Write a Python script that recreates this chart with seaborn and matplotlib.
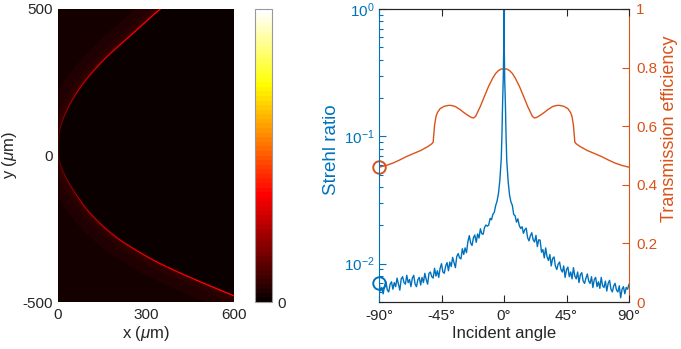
import numpy as np
import pandas as pd
import matplotlib
matplotlib.use("Agg")
import matplotlib.pyplot as plt
from matplotlib.colors import ListedColormap
import seaborn as sns

sns.set_style("white")
plt.rcParams['font.family'] = ['Liberation Sans', 'DejaVu Sans']
plt.rcParams['mathtext.fontset'] = 'custom'
plt.rcParams['mathtext.rm'] = 'Liberation Sans'
plt.rcParams['mathtext.it'] = 'Liberation Sans:italic'

BLUE = '#0072BD'
ORANGE = '#D95319'
DARK = '#262626'

# ---------------- data: left panel (caustic) ----------------
caustic_y = [-600, -540, -500, -476, -414, -362, -328, -294, -249, -192, -129, -72, -15, 30, 70, 115, 167, 224, 269, 332, 383, 434, 497, 540, 600]
caustic_x = [930, 762, 654, 592, 444, 331, 274, 217, 160, 103, 58, 24, 1, 0, 1, 12.6, 35, 69, 103, 160, 217, 274, 344, 398, 476]
caustic_level = [0.40, 0.40, 0.40, 0.40, 0.38, 0.36, 0.34, 0.32, 0.30, 0.27, 0.22, 0.17, 0.12, 0.10, 0.12, 0.17, 0.22, 0.27, 0.30, 0.33, 0.35, 0.37, 0.38, 0.38, 0.38]
x_ticks_um = [0, 300, 600]
y_ticks_um = [500, 0, -500]

# ---------------- data: right panel ----------------
strehl_angle = list(range(-90, -1)) + [-1.5, -1, -0.5, -0.25, 0, 0.25, 0.5, 1, 1.5] + list(range(2, 91))
strehl_milli = [
    7.2, 6.1, 6.5, 5.8, 6.7, 7.2, 6.2, 6.0, 6.9, 7.2,
    6.3, 7.1, 6.6, 7.7, 6.9, 6.2, 7.6, 7.9, 7.1, 6.9,
    8.1, 7.1, 7.5, 6.6, 7.7, 8.1, 6.9, 6.6, 7.5, 7.8,
    6.8, 7.8, 7.1, 8.4, 7.5, 6.9, 8.4, 8.6, 7.9, 7.7,
    9.2, 8.0, 8.8, 7.8, 9.2, 10.0, 8.6, 8.4, 9.6, 10.2,
    8.8, 10.3, 9.5, 11.2, 10.2, 9.3, 11.4, 12.0, 11.1, 10.9,
    13.1, 11.8, 13.3, 12.2, 14.9, 16.6, 14.5, 13.9, 16.0, 16.8,
    14.7, 17.1, 15.9, 18.8, 17.2, 17.0, 19.3, 20.1, 19.7, 20.1,
    22.7, 22.1, 24.4, 25.3, 28.6, 31.0, 35.5, 45.0, 66.0,
    100, 185, 290, 460, 1000, 450, 280, 180, 98,
    64, 44, 34.5, 30.5, 28.7, 24.3, 23.8, 21.2, 22.5, 19.9,
    18.9, 19.5, 17.3, 18.5, 19.0, 16.0, 15.1, 16.6, 17.5, 15.4,
    14.8, 16.7, 13.6, 15.4, 15.3, 12.3, 12.9, 11.1, 13.3, 11.3,
    10.6, 11.8, 9.6, 11.0, 11.3, 9.6, 9.0, 9.9, 10.3, 9.0,
    8.6, 9.6, 7.8, 9.0, 9.4, 7.9, 8.6, 7.6, 9.3, 8.0,
    7.6, 8.6, 7.1, 8.2, 8.5, 7.3, 7.0, 7.7, 8.3, 7.3,
    7.0, 7.9, 6.5, 7.5, 7.8, 6.6, 7.2, 6.4, 7.8, 6.7,
    6.5, 7.3, 6.1, 7.0, 7.4, 6.3, 6.0, 6.7, 7.0, 6.2,
    6.0, 6.7, 5.4, 6.3, 6.6, 5.8, 6.5, 6.3, 6.9,
]
strehl = [v / 1000.0 for v in strehl_milli]

trans_angle = [-90, -85, -80, -75, -70, -65, -60, -55, -52, -51, -50.5, -50, -49, -48, -46, -43, -40, -38,
               -35, -32, -29, -26, -23.5, -22, -20.5, -17, -14, -11, -8, -6, -4, -2, 0,
               2, 4, 6, 8, 11, 14, 17, 20.5, 22, 23.5, 26, 29, 32, 35, 38, 40, 43, 46, 48, 49, 50,
               50.5, 51, 52, 55, 60, 65, 70, 75, 80, 85, 90]
trans = [0.460, 0.466, 0.474, 0.485, 0.497, 0.507, 0.517, 0.530, 0.540, 0.545, 0.575, 0.603, 0.632, 0.646,
         0.660, 0.668, 0.671, 0.671, 0.667, 0.658, 0.647, 0.637, 0.630, 0.628, 0.633, 0.668, 0.703, 0.737,
         0.765, 0.780, 0.790, 0.795, 0.796,
         0.795, 0.790, 0.780, 0.765, 0.737, 0.703, 0.668, 0.633, 0.628, 0.630, 0.637, 0.647, 0.658, 0.667,
         0.671, 0.671, 0.668, 0.660, 0.646, 0.632, 0.603, 0.575, 0.545, 0.540, 0.530, 0.517, 0.507, 0.497,
         0.485, 0.474, 0.466, 0.460]

marker_angle = -90
marker_strehl = 0.0070
marker_trans = 0.46
angle_ticks = [-90, -45, 0, 45, 90]
angle_labels = ['-90°', '-45°', '0°', '45°', '90°']
trans_ticks = [0, 0.2, 0.4, 0.6, 0.8, 1]
trans_labels = ['0', '0.2', '0.4', '0.6', '0.8', '1']

# ---------------- figure ----------------
W, H = 681, 349
fig = plt.figure(figsize=(W / 100, H / 100), dpi=100)

def rect(x0, y0, x1, y1):
    return [x0 / W, 1 - y1 / H, (x1 - x0) / W, (y1 - y0) / H]

axL = fig.add_axes(rect(58, 9, 234, 302))
cax = fig.add_axes(rect(255, 9, 272, 302))
ax = fig.add_axes(rect(379, 9, 629, 302))

# ---- build the intensity field from the caustic curve ----
ncol, nrow = 176, 293
xs = (np.arange(ncol) + 0.5) / ncol * 600
ys = 500 - (np.arange(nrow) + 0.5) / nrow * 1000
yd = np.linspace(-600, 600, 1201)
xd_raw = np.interp(yd, caustic_y, caustic_x)
kern = np.exp(-0.5 * (np.arange(-60, 61) / 15.0) ** 2)
kern /= kern.sum()
xd = np.convolve(np.pad(xd_raw, 60, mode='edge'), kern, mode='valid')
cx = xd / 600 * ncol
cy = (500 - yd) / 1000 * nrow
col = np.arange(ncol) + 0.5
field = np.zeros((nrow, ncol))
for r in range(nrow):
    rr = r + 0.5
    d = np.sqrt((col[:, None] - cx[None, :]) ** 2 + (rr - cy[None, :]) ** 2).min(axis=1)
    xc = np.interp(ys[r], yd, xd)
    amp = np.interp(ys[r], caustic_y, caustic_level)
    outside = xs < xc
    line = amp * np.exp(-(d / 0.85) ** 2)
    glow = outside * (0.025 + 0.05 * np.exp(-d / 8.0))
    field[r] = np.maximum(line, glow)

hot64 = ListedColormap(plt.get_cmap('hot')(np.linspace(0, 1, 64)))
df = pd.DataFrame(field)
sns.heatmap(df, ax=axL, cmap=hot64, vmin=0, vmax=1, cbar_ax=cax,
            xticklabels=False, yticklabels=False, rasterized=True,
            cbar_kws={'ticks': [0]})
axL.set_xticks([0, ncol / 2, ncol])
axL.set_xticklabels([str(v) for v in x_ticks_um], rotation=0)
axL.set_yticks([0, nrow / 2, nrow])
axL.set_yticklabels([str(v) for v in y_ticks_um], rotation=0)
axL.tick_params(length=0, labelsize=11, pad=4, colors=DARK)
axL.set_xlabel(r'x ($\mu$m)', fontsize=12, color=DARK, labelpad=2)
axL.set_ylabel(r'y ($\mu$m)', fontsize=12, color=DARK, labelpad=2)
for s in axL.spines.values():
    s.set_visible(False)

cbar = axL.collections[0].colorbar
cbar.outline.set_visible(True)
cbar.outline.set_edgecolor('#999999')
cbar.outline.set_linewidth(0.8)
cax.tick_params(length=0, labelsize=11, pad=4, colors=DARK)
cax.set_yticklabels(['0'])

# ---- right panel ----
sns.lineplot(x=strehl_angle, y=strehl, ax=ax, color=BLUE, lw=1.0, estimator=None)
ax.set_yscale('log')
ax.set_ylim(0.005, 1)
ax.set_xlim(-90, 90)

ax2 = ax.twinx()
sns.lineplot(x=trans_angle, y=trans, ax=ax2, color=ORANGE, lw=1.0, estimator=None)
ax2.set_ylim(0, 1)
ax2.set_yticks(trans_ticks)
ax2.set_yticklabels(trans_labels)

ax.set_zorder(ax2.get_zorder() + 1)
ax.patch.set_visible(False)

ax.plot([marker_angle], [marker_strehl], 'o', mfc='none', mec=BLUE, ms=9, mew=1.4, clip_on=False, zorder=5)
ax2.plot([marker_angle], [marker_trans], 'o', mfc='none', mec=ORANGE, ms=9, mew=1.4, clip_on=False, zorder=5)

ax.set_xticks(angle_ticks)
ax.set_xticklabels(angle_labels)
ax.tick_params(axis='x', which='both', direction='in', top=True, bottom=True,
               length=5, width=0.8, colors=DARK, labelsize=11, pad=5)
ax.tick_params(axis='y', which='major', direction='in', length=5, width=0.8,
               colors=BLUE, labelsize=11, pad=3)
ax.tick_params(axis='y', which='minor', direction='in', length=3, width=0.8, colors=BLUE)
ax2.tick_params(axis='y', which='both', direction='in', length=5, width=0.8,
                colors=ORANGE, labelsize=11, pad=5)

for a in (ax, ax2):
    a.spines['left'].set_color(BLUE)
    a.spines['right'].set_color(ORANGE)
    a.spines['top'].set_color(DARK)
    a.spines['bottom'].set_color(DARK)
    for s in a.spines.values():
        s.set_linewidth(0.8)
ax.spines['right'].set_visible(False)
ax2.spines['left'].set_visible(False)
ax2.grid(False)
ax.grid(False)

ax.set_xlabel('Incident angle', fontsize=12, color=DARK, labelpad=2)
ax.set_ylabel('Strehl ratio', fontsize=13.5, color=BLUE)
ax.yaxis.set_label_coords(-0.156, 0.52)
ax2.set_ylabel('Transmission efficiency', fontsize=13, color=ORANGE)
ax2.yaxis.set_label_coords(1.13, 0.59)

fig.savefig('out.png', dpi=100, facecolor='white')
